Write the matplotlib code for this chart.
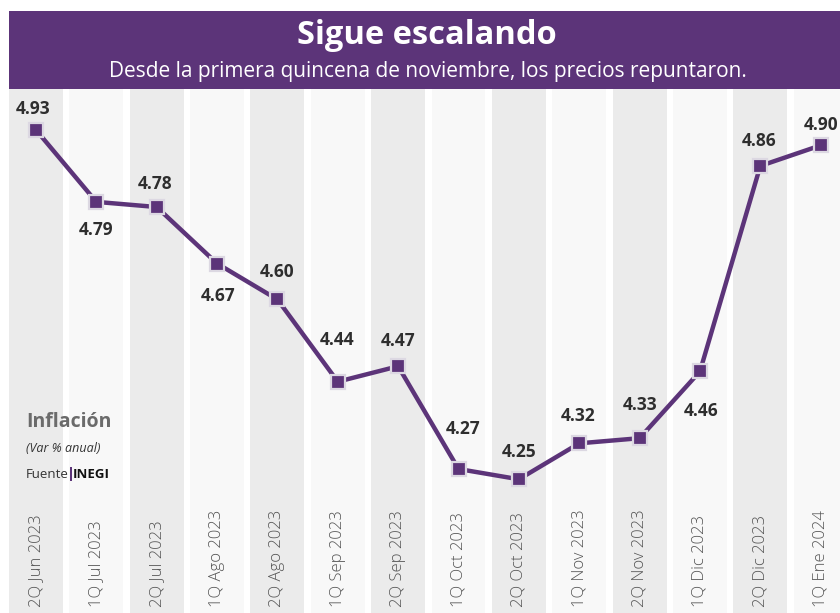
import matplotlib
matplotlib.use("Agg")
import matplotlib.pyplot as plt
import matplotlib.transforms as mtransforms
from matplotlib.patches import Rectangle

# Datos: inflación quincenal (var % anual), fuente INEGI
periodos = ["2Q Jun 2023", "1Q Jul 2023", "2Q Jul 2023", "1Q Ago 2023",
            "2Q Ago 2023", "1Q Sep 2023", "2Q Sep 2023", "1Q Oct 2023",
            "2Q Oct 2023", "1Q Nov 2023", "2Q Nov 2023", "1Q Dic 2023",
            "2Q Dic 2023", "1Q Ene 2024"]
inflacion = [4.93, 4.79, 4.78, 4.67, 4.60, 4.44, 4.47, 4.27,
             4.25, 4.32, 4.33, 4.46, 4.86, 4.90]

titulo = "Sigue escalando"
subtitulo = "Desde la primera quincena de noviembre, los precios repuntaron."

# desplazamiento de etiquetas (pixeles, + arriba / - abajo)
dy_etq = [21, -28, 23, -32, 27, 42, 25, 40, 27, 27, 33, -40, 25, 20]
dx_etq = [-3, 0, -2, 1, 0, -1, 0, 5, 0, -1, 0, 1, -1, 0]

MORADO = "#5c3479"
W, H = 840, 613

plt.rcParams["font.family"] = ["Open Sans", "DejaVu Sans"]

fig = plt.figure(figsize=(W / 100, H / 100), dpi=100)
fig.patch.set_facecolor("white")

ax = fig.add_axes([0, 0, 1, 1])
ax.set_xlim(-0.596, 13.32)
ax.set_ylim(3.9897, 5.183)
ax.axis("off")

# franjas alternas por quincena
top_frac = (H - 89) / H
for i in range(len(periodos)):
    color = "#ebebeb" if i % 2 == 0 else "#f8f8f8"
    ax.axvspan(i - 0.447, i + 0.447, ymin=0, ymax=top_frac, color=color, lw=0, zorder=0)

# encabezado
fig.add_artist(Rectangle((9 / W, 1 - 89 / H), (W - 9) / W, 78 / H,
                         transform=fig.transFigure, color=MORADO, lw=0, zorder=1))
fig.text(427 / W, 1 - 36 / H, titulo, ha="center", va="center", color="white",
         fontsize=23.5, fontweight="bold", zorder=2)
fig.text(428 / W, 1 - 72 / H, subtitulo, ha="center", va="center", color="white",
         fontsize=15, zorder=2)

x = list(range(len(periodos)))
ax.plot(x, inflacion, color=MORADO, lw=3.2, zorder=3, solid_capstyle="butt")
ax.plot(x, inflacion, ls="none", marker="s", ms=10, mfc=MORADO,
        mec="#dcd8e2", mew=1.6, zorder=4)

for i, v in enumerate(inflacion):
    ax.annotate(f"{v:.2f}", (i, v), xytext=(dx_etq[i], dy_etq[i]),
                textcoords="offset pixels", ha="center", va="center",
                fontsize=12.5, fontweight="bold", color="#2e2e2e", zorder=5)

# etiquetas del eje x (verticales)
trans = mtransforms.blended_transform_factory(ax.transData, ax.transAxes)
for i, p in enumerate(periodos):
    ax.text(i, 6 / H, p, rotation=90, ha="center", va="bottom", transform=trans,
            fontsize=12, fontweight="light", color="#555555", zorder=5)

# notas a la izquierda
fig.text(26 / W, 1 - 422 / H, "Inflación", ha="left", va="center",
         fontsize=14, fontweight="bold", color="#6b6b6b")
fig.text(26 / W, 1 - 449 / H, "(Var % anual)", ha="left", va="center",
         fontsize=9, style="italic", color="#333333")
t1 = fig.text(26 / W, 1 - 474 / H, "Fuente", ha="left", va="center",
              fontsize=9.5, color="#333333")
fig.canvas.draw()
bb = t1.get_window_extent()
x_bar = bb.x1 + 1
fig.add_artist(Rectangle((x_bar / W, 1 - 481 / H), 2 / W, 14 / H,
                         transform=fig.transFigure, color=MORADO, lw=0))
fig.text((x_bar + 3) / W, 1 - 474 / H, "INEGI", ha="left", va="center",
         fontsize=9.5, fontweight="bold", color="#111111")

fig.savefig("out.png", dpi=100)
